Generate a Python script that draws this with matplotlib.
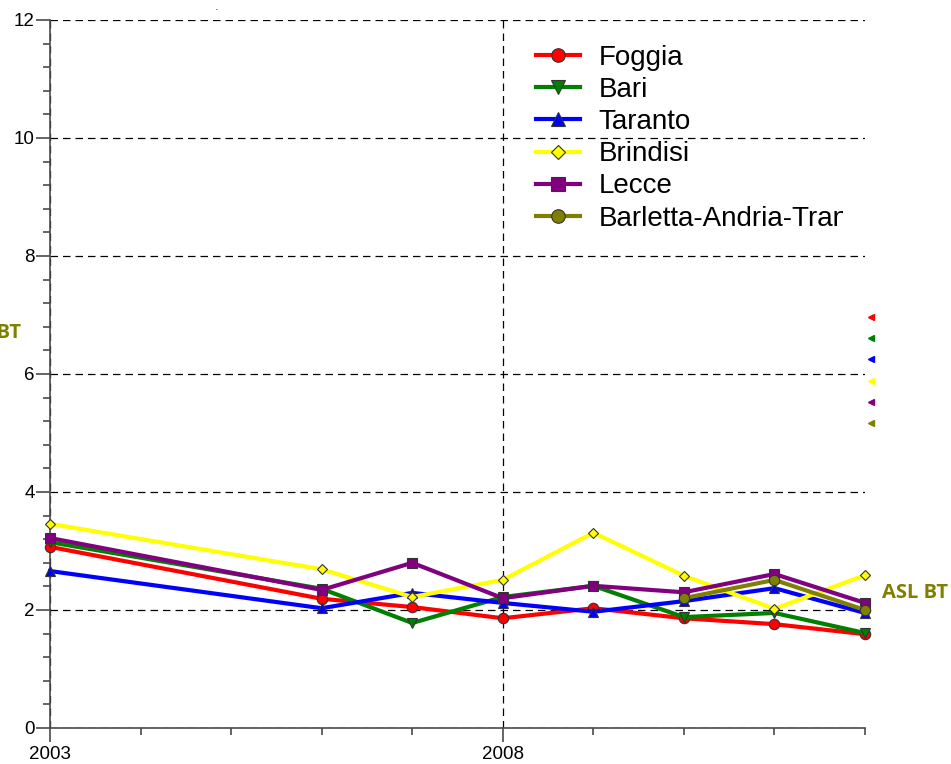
import matplotlib
matplotlib.use("Agg")
import matplotlib.pyplot as plt
import numpy as np
from matplotlib.patches import Rectangle
from matplotlib.ticker import MultipleLocator, FixedLocator

years = [2003, 2006, 2007, 2008, 2009, 2010, 2011, 2012]
foggia = [3.07, 2.19, 2.05, 1.86, 2.03, 1.86, 1.76, 1.59]
bari = [3.15, 2.36, 1.78, 2.22, 2.41, 1.88, 1.95, 1.61]
taranto = [2.66, 2.03, 2.29, 2.12, 1.97, 2.15, 2.37, 1.95]
brindisi = [3.46, 2.69, 2.22, 2.51, 3.31, 2.58, 2.02, 2.59]
lecce = [3.22, 2.34, 2.80, 2.20, 2.41, 2.30, 2.61, 2.12]
bat = [np.nan, np.nan, np.nan, np.nan, np.nan, 2.20, 2.51, 2.00]

names = ["Foggia", "Bari", "Taranto", "Brindisi", "Lecce", "Barletta-Andria-Trani"]
series = [foggia, bari, taranto, brindisi, lecce, bat]
colors = ["#FF0000", "#008000", "#0000FF", "#FFFF00", "#800080", "#808000"]
markers = ["o", "v", "^", "D", "s", "o"]
msizes = [7.5, 7.5, 7.5, 5.5, 7.5, 7.5]

plt.rcParams['font.family'] = ['Liberation Sans', 'DejaVu Sans']

fig = plt.figure(figsize=(9.51, 7.64), dpi=100)
W, H = 951, 764
ax = fig.add_axes([50 / W, 1 - 728 / H, (865 - 50) / W, (728 - 20) / H])

for vals, name, c, m, ms in zip(series, names, colors, markers, msizes):
    ax.plot(years, vals, color=c, lw=3, marker=m, markersize=ms,
            markerfacecolor=c, markeredgecolor="#333333", markeredgewidth=0.8,
            label=name, clip_on=False, zorder=3)

ax.set_xlim(2003, 2012)
ax.set_ylim(0, 12)
ax.xaxis.set_major_locator(FixedLocator([2003, 2008]))
ax.xaxis.set_minor_locator(MultipleLocator(1))
ax.yaxis.set_major_locator(MultipleLocator(2))
ax.yaxis.set_minor_locator(MultipleLocator(0.4))
ax.set_xticklabels(["2003", "2008"])
for s in ["top", "right"]:
    ax.spines[s].set_visible(False)
for s in ["left", "bottom"]:
    ax.spines[s].set_color("#4a4a4a")
    ax.spines[s].set_linewidth(1.2)
ax.tick_params(axis="both", which="major", length=10, width=1.2, color="#4a4a4a",
               labelsize=13.5, pad=1)
ax.tick_params(axis="both", which="minor", length=5, width=1.2, color="#4a4a4a")
ax.tick_params(axis="x", which="major", pad=3)
ax.grid(True, which="major", color="black", linestyle=(0, (6, 4)), linewidth=0.9)
ax.set_axisbelow(True)

leg = ax.legend(loc="upper left", bbox_to_anchor=(536 / W, 1 - 45 / H),
                bbox_transform=fig.transFigure, frameon=False, fontsize=20,
                handlelength=1.6, handletextpad=0.65, labelspacing=0.22,
                borderpad=0, borderaxespad=0, markerscale=1.3)

# the reference cuts the last legend label at its right edge
fig.patches.append(Rectangle((843 / W, 1 - 236 / H), 25 / W, 30 / H,
                             transform=fig.transFigure, facecolor="white",
                             edgecolor="none", zorder=5, figure=fig))

fig.text(882 / W, 1 - 593 / H, "ASL BT", color="#808000", fontsize=14.5,
         fontweight="bold", family=["Open Sans", "DejaVu Sans"], va="center", ha="left")
fig.text(21 / W, 1 - 333 / H, "ASL BT", color="#808000", fontsize=14.5,
         fontweight="bold", family=["Open Sans", "DejaVu Sans"], va="center", ha="right")

for i, c in enumerate(colors):
    fig.lines.append(plt.Line2D([871 / W], [1 - (317 + 21.2 * i) / H], marker="<",
                                markersize=4, color=c, linestyle="none",
                                transform=fig.transFigure, figure=fig))
fig.text(217 / W, 1 - 10 / H, "·", fontsize=8, ha="center", va="center")

fig.savefig("out.png", dpi=100)
